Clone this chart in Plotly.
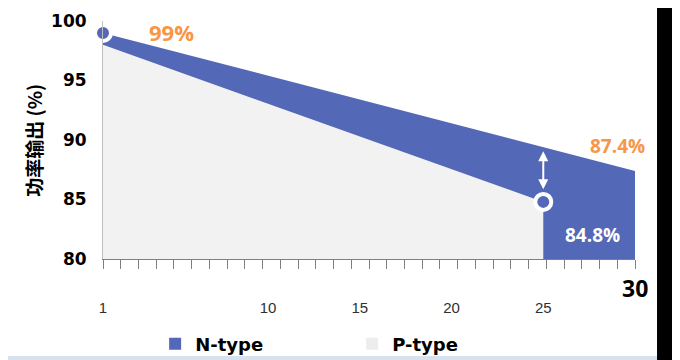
import plotly.graph_objects as go

years = list(range(1, 31))
n_type = [99.0, 98.6, 98.2, 97.8, 97.4, 97.0, 96.6, 96.2, 95.8, 95.4,
          95.0, 94.6, 94.2, 93.8, 93.4, 93.0, 92.6, 92.2, 91.8, 91.4,
          91.0, 90.6, 90.2, 89.8, 89.4, 89.0, 88.6, 88.2, 87.8, 87.4]
p_years = list(range(1, 26))
p_type = [98.0, 97.45, 96.9, 96.35, 95.8, 95.25, 94.7, 94.15, 93.6, 93.05,
          92.5, 91.95, 91.4, 90.85, 90.3, 89.75, 89.2, 88.65, 88.1, 87.55,
          87.0, 86.45, 85.9, 85.35, 84.8]
x_tick_vals = [1, 10, 15, 20, 25]
x_tick_text = ["1", "10", "15", "20", "25"]
y_tick_vals = [80, 85, 90, 95, 100]

BLUE = "#5468B8"
GRAY = "#F2F2F2"
ORANGE = "#F79646"

fig = go.Figure()
fig.add_trace(go.Scatter(x=years, y=n_type, mode="lines", line=dict(width=0, color=BLUE),
                         fill="tozeroy", fillcolor=BLUE, showlegend=False, hoverinfo="skip"))
fig.add_trace(go.Scatter(x=p_years, y=p_type, mode="lines", line=dict(width=0, color=GRAY),
                         fill="tozeroy", fillcolor=GRAY, showlegend=False, hoverinfo="skip"))
# highlighted points
fig.add_trace(go.Scatter(x=[years[0]], y=[n_type[0]], mode="markers",
                         marker=dict(size=16, color=BLUE, line=dict(color="white", width=4)),
                         showlegend=False, hoverinfo="skip", cliponaxis=False))
fig.add_trace(go.Scatter(x=[p_years[-1]], y=[p_type[-1]], mode="markers",
                         marker=dict(size=16, color=BLUE, line=dict(color="white", width=4)),
                         showlegend=False, hoverinfo="skip"))
# legend entries
fig.add_trace(go.Scatter(x=[None], y=[None], mode="markers", name="<b>N-type</b>",
                         marker=dict(symbol="square", size=12, color=BLUE)))
fig.add_trace(go.Scatter(x=[None], y=[None], mode="markers", name="<b>P-type</b>",
                         marker=dict(symbol="square", size=12, color="#EDEDED")))

# page body has an 8px margin, so the figure is 672x352 placed at (8, 8)
fig.update_layout(
    width=672, height=352,
    margin=dict(l=95, r=45, t=13, b=101, autoexpand=False),
    paper_bgcolor="white", plot_bgcolor="white",
    showlegend=True,
    legend=dict(orientation="h", x=0.098, xanchor="left", y=-0.28, yanchor="top",
                font=dict(family="DejaVu Sans", size=18, color="black"),
                entrywidth=152, itemsizing="constant", bgcolor="rgba(0,0,0,0)"),
    xaxis=dict(range=[1, 30], showgrid=False, zeroline=False, automargin=False,
               showline=True, linecolor="#7F7F7F", linewidth=1,
               tickmode="array", tickvals=x_tick_vals, ticktext=x_tick_text,
               ticks="", ticklabelstandoff=35,
               tickfont=dict(family="Liberation Sans", size=15, color="#303030"),
               minor=dict(ticks="outside", ticklen=9, tickcolor="#7F7F7F", tickwidth=1,
                          tick0=1, dtick=29 / 30, showgrid=False)),
    yaxis=dict(range=[80, 100], showgrid=False, zeroline=False, automargin=False,
               showline=True, linecolor="#BFBFBF", linewidth=1,
               tickmode="array", tickvals=y_tick_vals, ticks="",
               ticklabelstandoff=12,
               tickfont=dict(family="DejaVu Sans", size=17, color="black", weight="bold")),
)

fig.add_annotation(x=25, y=89.3, ax=25, ay=84.9, xref="x", yref="y", axref="x", ayref="y",
                   showarrow=True, arrowhead=2, startarrowhead=2, arrowside="end+start",
                   arrowsize=1, arrowwidth=2, arrowcolor="white", text="",
                   standoff=3, startstandoff=10)
fig.add_annotation(x=4.76, y=99.1, xref="x", yref="y", text="<b>99%</b>", showarrow=False,
                   font=dict(family="Open Sans", size=22, color=ORANGE))
fig.add_annotation(x=29.03, y=89.5, xref="x", yref="y", text="<b>87.4%</b>", showarrow=False,
                   font=dict(family="Open Sans", size=19, color=ORANGE))
fig.add_annotation(x=27.66, y=82.0, xref="x", yref="y", text="<b>84.8%</b>", showarrow=False,
                   font=dict(family="Open Sans", size=19, color="white"))
fig.add_annotation(x=30, y=80, xref="x", yref="y", text="<b>30</b>", showarrow=False,
                   yshift=-29, font=dict(family="Open Sans", size=23, color="black"))
fig.add_annotation(x=-0.132, y=0.5, xref="paper", yref="paper", text="<b>功率输出 (%)</b>",
                   textangle=-90, showarrow=False, xanchor="center", yanchor="middle",
                   font=dict(family="Noto Sans CJK SC", size=19, color="black"))

# frame edges
fig.add_shape(type="rect", xref="paper", yref="paper", x0=1.0414, x1=1.12, y0=-0.6, y1=1.2,
              fillcolor="black", line=dict(width=0), layer="above")
fig.add_shape(type="rect", xref="paper", yref="paper", x0=-0.25, x1=1.0414, y0=-0.6, y1=-0.4076,
              fillcolor="#D6E3EE", line=dict(width=0), layer="above")

fig.write_html("out.html")
